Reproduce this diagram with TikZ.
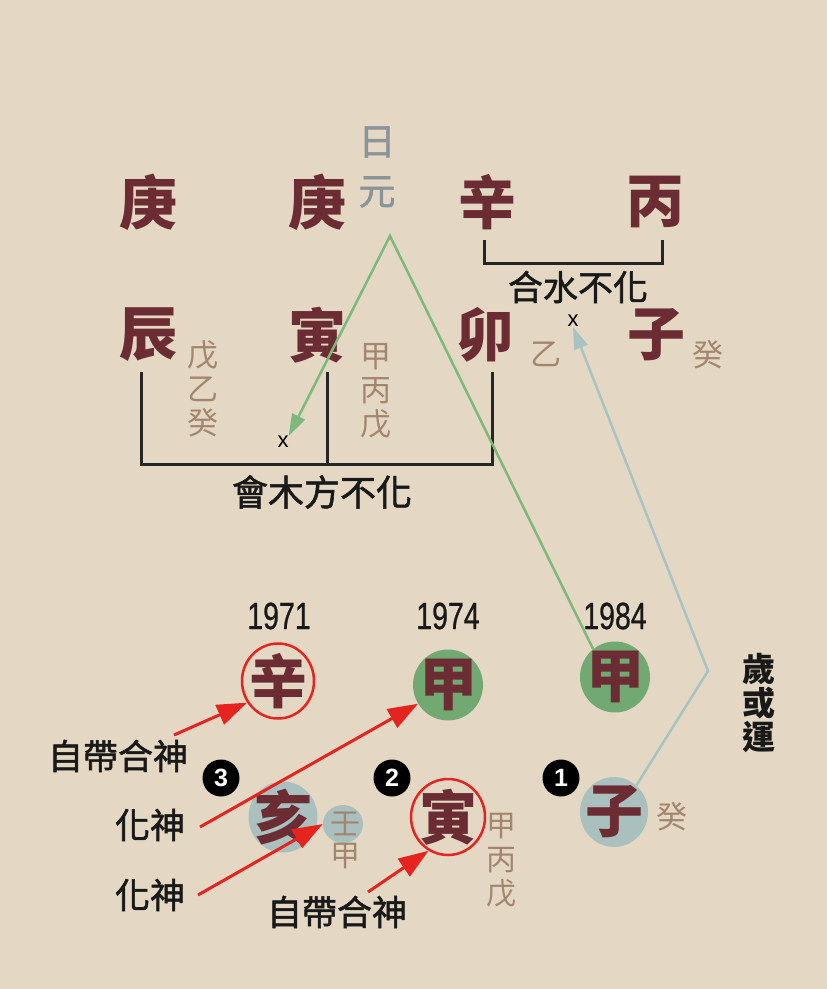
\documentclass[tikz,border=0pt]{standalone}
\usepackage{fontspec}
\setmainfont{Liberation Sans}
\newfontfamily\yearf[FakeBold=0.8]{Liberation Sans}
\newfontfamily\cjk{Noto Sans CJK TC}
\newfontfamily\cjkm[FakeBold=1.5]{Noto Sans CJK TC}
\usetikzlibrary{shapes.geometric,arrows.meta}
\definecolor{bg}{HTML}{E4D8C4}
\definecolor{stem}{HTML}{6B2D33}
\definecolor{hid}{HTML}{A3866F}
\definecolor{rigen}{HTML}{8C939A}
\definecolor{gfill}{HTML}{72A973}
\definecolor{gline}{HTML}{7DB87D}
\definecolor{bfill}{HTML}{A9C0BE}
\definecolor{bline}{HTML}{A8C4C2}
\definecolor{redc}{HTML}{E52420}
\tikzset{
  big/.style={font=\cjk\bfseries\fontsize{58}{58}\selectfont, text=stem, inner sep=0pt},
  hidden/.style={font=\cjk\fontsize{31}{34}\selectfont, text=hid, inner sep=0pt, align=center},
  lab/.style={font=\cjkm\fontsize{35}{37}\selectfont, text=black!90, inner sep=0pt, align=center},
  year/.style={font=\yearf\fontsize{38}{38}\selectfont, text=black!90, inner sep=0pt, xscale=0.75},
  xmark/.style={font=\fontsize{22}{22}\selectfont, inner sep=0pt},
  bracket/.style={line width=3pt, black!85},
  gball/.style={ellipse, fill=gfill, minimum width=70pt, minimum height=71pt, inner sep=0pt},
  bball/.style={ellipse, fill=bfill, minimum width=69pt, minimum height=71pt, inner sep=0pt},
  rball/.style={ellipse, draw=redc, line width=2.5pt, minimum width=72pt, minimum height=75pt, inner sep=0pt},
  numc/.style={circle, fill=black, minimum size=37pt, inner sep=0pt, text=white, font=\bfseries\fontsize{25}{25}\selectfont},
  redarr/.style={draw=redc, line width=3pt, -{Triangle[length=30pt,width=21pt]}},
  garr/.style={draw=gline, line width=2.5pt, -{Triangle[length=22pt,width=14pt]}},
  barr/.style={draw=bline, line width=2.5pt, -{Triangle[length=22pt,width=14pt]}},
}
\begin{document}
\begin{tikzpicture}[x=1pt,y=-1pt]
\fill[bg] (0,0) rectangle (827,989);
\useasboundingbox (0,0) rectangle (827,989);
% top pillars
\node[big] (g1) at (148,202) {庚};
\node[big] (g2) at (317,202) {庚};
\node[big] (g3) at (487,202) {辛};
\node[big] (g4) at (655,202) {丙};
\node[font=\cjkm\fontsize{37}{37}\selectfont, text=rigen, inner sep=0pt] (ri) at (377,142) {日};
\node[font=\cjkm\fontsize{37}{37}\selectfont, text=rigen, inner sep=0pt] (yuan) at (377,192) {元};
\node[big] (b1) at (148,335) {辰};
\node[big] (b2) at (317,335) {寅};
\node[big] (b3) at (485,335) {卯};
\node[big] (b4) at (656,335) {子};
\node[hidden] (h1) at (203,389) {戊\\乙\\癸};
\node[hidden] (h2) at (376,391) {甲\\丙\\戊};
\node[hidden] (h3) at (546,354) {乙};
\node[hidden] (h4) at (708,355) {癸};
% bracket 辛丙
\coordinate (t1) at (484,240);
\coordinate (t2) at (662,240);
\draw[bracket] (t1) |- (662,263) -- (t2);
\node[lab] (heshui) at (578,287) {合水不化};
\node[xmark] (xB) at (573,321) {x};
% bracket 辰寅卯
\coordinate (m1) at (141,372);
\coordinate (m2) at (327,372);
\coordinate (m3) at (492,372);
\draw[bracket] (m1) |- (492,464) -- (m3);
\draw[bracket] (m2) -- (327,464);
\node[xmark] (xA) at (283,442) {x};
\node[lab, font=\cjkm\fontsize{36}{36}\selectfont] (huimu) at (322,492) {會木方不化};
% bottom
\node[year] (y1) at (279,616) {1971};
\node[year] (y2) at (448,616) {1974};
\node[year] (y3) at (615,616) {1984};
\node[rball] (e1) at (278,681) {};
\node[big] (s1) at (278,681) {辛};
\node[gball] (e2) at (448,685) {};
\node[big] (s2) at (448,685) {甲};
\node[gball] (e3) at (615,677) {};
\node[big] (s3) at (615,677) {甲};
\node[numc] (n3) at (221,778) {3};
\node[numc] (n2) at (392,778) {2};
\node[numc] (n1) at (561,778) {1};
\node[bball] (e4) at (283,817) {};
\node[big] (z1) at (283,817) {亥};
\node[bball, minimum width=40pt, minimum height=38pt] (e5) at (343,824) {};
\node[hidden, font=\cjk\fontsize{30}{32}\selectfont] (h5) at (345,840) {壬\\甲};
\node[rball, minimum width=74pt, minimum height=76pt] (e6) at (448,817) {};
\node[big] (z2) at (448,817) {寅};
\node[hidden, font=\cjk\fontsize{30}{34}\selectfont] (h6) at (501,860) {甲\\丙\\戊};
\node[bball, minimum width=68pt, minimum height=70pt] (e7) at (614,812) {};
\node[big] (z3) at (614,812) {子};
\node[hidden] (h7) at (672,817) {癸};
\node[lab, font=\cjk\bfseries\fontsize{33}{34}\selectfont] (sui) at (759,703) {歲\\或\\運};
% labels
\node[lab] (l1) at (118,756) {自帶合神};
\node[lab] (l2) at (150,825) {化神};
\node[lab] (l3) at (150,895) {化神};
\node[lab] (l4) at (337,912) {自帶合神};
% connectors
\coordinate (apex) at (390,236);
\draw[garr] (e3.128) -- (apex) -- (xA.north east);
\coordinate (vtx) at (708,671);
\draw[barr] (e7.50) -- (vtx) -- (xB.south);
\coordinate (r1) at (174,735);
\coordinate (r2) at (200,827);
\coordinate (r3) at (198,895);
\coordinate (r4) at (368,892);
\draw[redarr] (r1) -- (e1.215);
\draw[redarr] (r2) -- (e2.212);
\draw[redarr] (r3) -- (e5.west);
\draw[redarr] (r4) -- (e6.240);
\end{tikzpicture}
\end{document}
